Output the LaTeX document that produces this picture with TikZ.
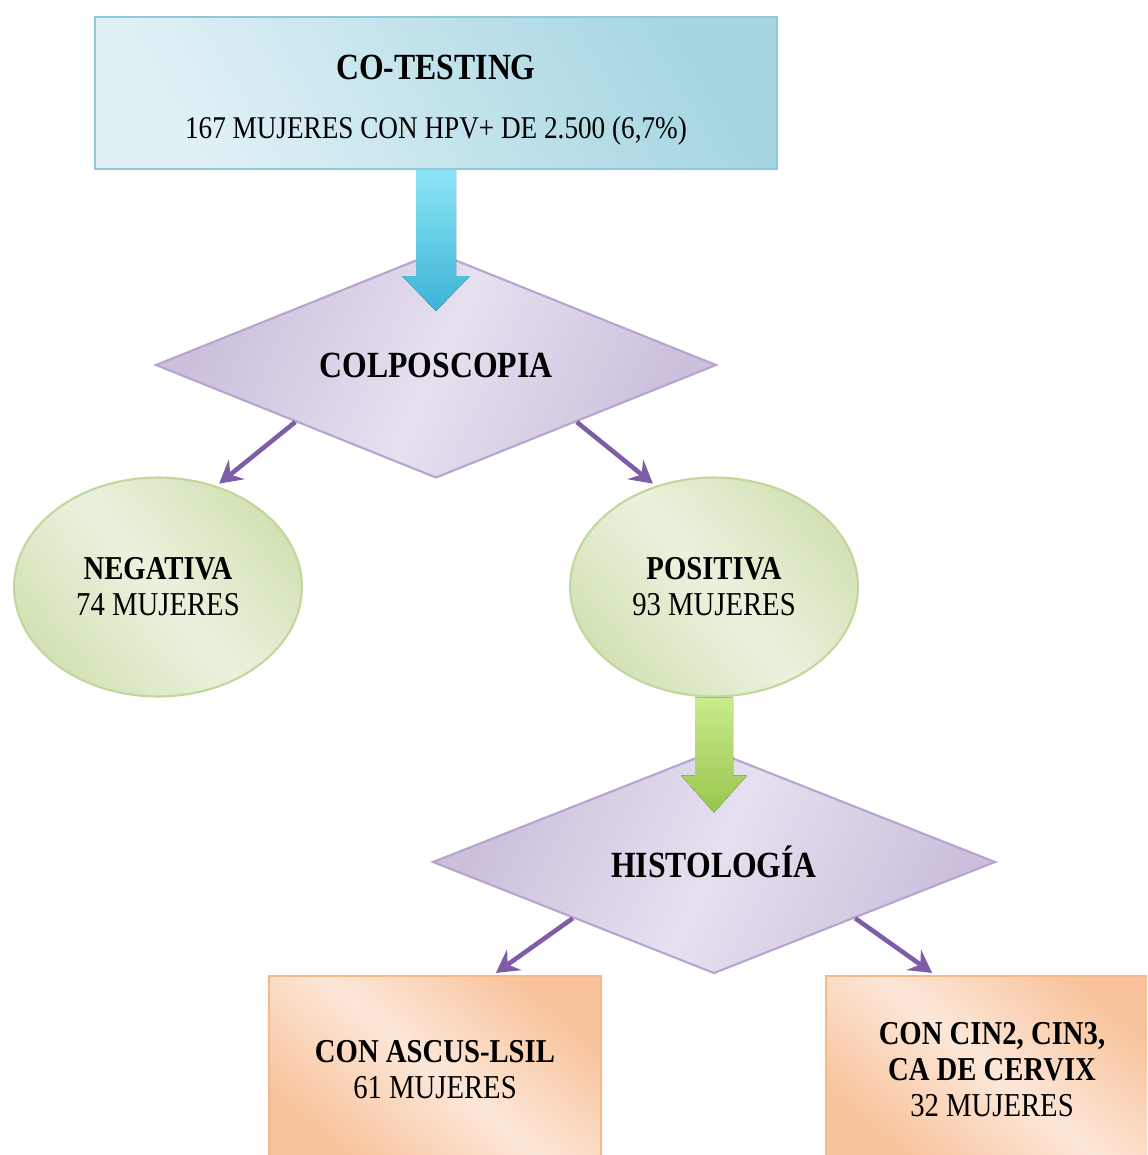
\documentclass[tikz,border=0pt]{standalone}
\usepackage{fontspec}
\setmainfont{Liberation Serif}[FakeStretch=0.86]
\usepackage{tikz}
\usetikzlibrary{arrows.meta, shapes.geometric, calc}

\definecolor{cotlight}{HTML}{E1F1F6}
\definecolor{cotdark}{HTML}{A6D6E2}
\definecolor{cotline}{HTML}{92C9D7}
\definecolor{lavlight}{HTML}{E6E0EF}
\definecolor{lavdark}{HTML}{CBBFDC}
\definecolor{lavline}{HTML}{B6A6CF}
\definecolor{grnlight}{HTML}{EAF2DE}
\definecolor{grndark}{HTML}{D3E2B6}
\definecolor{grnline}{HTML}{C3D69B}
\definecolor{orglight}{HTML}{FCE7D8}
\definecolor{orgdark}{HTML}{F8C29A}
\definecolor{orgline}{HTML}{F6B98A}
\definecolor{purarr}{HTML}{7C5DA6}
\definecolor{bluetop}{HTML}{8DE5F6}
\definecolor{bluebot}{HTML}{3BB4D6}
\definecolor{greentop}{HTML}{C9EB8D}
\definecolor{greenbot}{HTML}{98C64C}

\begin{document}
\begin{tikzpicture}[x=0.02cm, y=-0.02cm,
    topbox/.style={draw=cotline, line width=1.2pt, left color=cotlight, right color=cotdark,
      shading angle=120, minimum width=13.64cm, minimum height=3.04cm, align=center},
    decide/.style={diamond, draw=lavline, line width=1.2pt, top color=lavdark, bottom color=lavdark,
      middle color=lavlight, shading angle=65, inner sep=0pt, aspect=2.5},
    result/.style={ellipse, draw=grnline, line width=1.2pt, top color=grndark, bottom color=grndark,
      middle color=grnlight, shading angle=-50, minimum width=5.76cm, minimum height=4.38cm,
      inner sep=0pt, align=center, font=\fontsize{19}{20.5}\selectfont},
    finalbox/.style={draw=orgline, line width=1.2pt, top color=orgdark, bottom color=orgdark,
      middle color=orglight, shading angle=-40, minimum width=6.64cm, minimum height=3.76cm,
      align=center, font=\fontsize{19}{20.5}\selectfont},
    arr/.style={-{Stealth[length=4.5mm, width=5mm, inset=1.6mm]}, line width=2.6pt, purarr, shorten >=2pt},
    bigblue/.style={top color=bluetop, bottom color=bluebot, draw=none},
    biggreen/.style={top color=greentop, bottom color=greenbot, draw=none}]
  \useasboundingbox (0,0) rectangle (1147,1155);
  \clip (0,0) rectangle (1147,1155);
  % co-testing
  \node[topbox] (cot) at (436,93)
    {\rule{0pt}{22pt}{\fontsize{21}{25}\selectfont\bfseries CO-TESTING}\\[20pt]
     {\fontsize{18}{21}\selectfont 167 MUJERES CON HPV+ DE 2.500 (6,7\%)}};
  % colposcopia
  \node[decide, minimum width=11.22cm, minimum height=4.52cm, font=\fontsize{21}{24}\selectfont\bfseries]
    (colpo) at (436,365) {COLPOSCOPIA};
  \fill[bigblue] ($(cot.south)+(-20,0)$) -- ++(0,106) -- ++(-14,0) -- ($(cot.south)+(0,141)$)
    -- ($(cot.south)+(34,106)$) -- ++(-14,0) -- ($(cot.south)+(20,0)$) -- cycle;
  % results
  \node[result] (neg) at (158,587) {\textbf{NEGATIVA}\\74 MUJERES};
  \node[result] (pos) at (714,587) {\textbf{POSITIVA}\\93 MUJERES};
  \draw[arr] (colpo.south west) -- (neg.60);
  \draw[arr] (colpo.south east) -- (pos.120);
  % histologia
  \node[decide, minimum width=11.26cm, minimum height=4.46cm, font=\fontsize{21}{24}\selectfont\bfseries]
    (histo) at (714,862) {HISTOLOGÍA};
  \fill[biggreen] ($(pos.south)+(-19,0)$) -- ++(0,78) -- ++(-14,0) -- ($(pos.south)+(0,115)$)
    -- ($(pos.south)+(33,78)$) -- ++(-14,0) -- ($(pos.south)+(19,0)$) -- cycle;
  % final groups
  \node[finalbox] (low) at (435,1070) {\textbf{CON ASCUS-LSIL}\\61 MUJERES};
  \node[finalbox] (high) at (992,1070) {\textbf{CON CIN2, CIN3,}\\\textbf{CA DE CERVIX}\\32 MUJERES};
  \draw[arr] (histo.south west) -- ($(low.north)+(58,0)$);
  \draw[arr] (histo.south east) -- ($(high.north)+(-57,0)$);
\end{tikzpicture}
\end{document}
